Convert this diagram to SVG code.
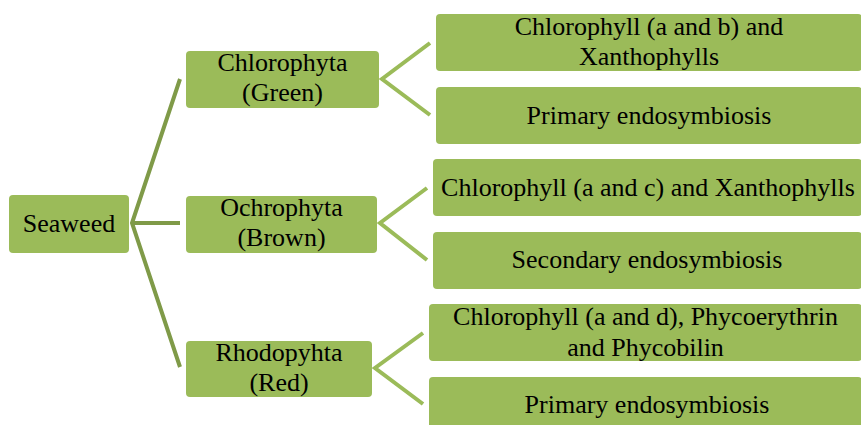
<svg xmlns="http://www.w3.org/2000/svg" width="861" height="425" viewBox="0 0 861 425">
<style>
.box{fill:#9bbb59;}
.t{font-family:'Liberation Serif','DejaVu Serif',serif;font-size:26px;fill:#000;text-anchor:middle;}
.c1{stroke:#7f9a48;stroke-width:4;fill:none;stroke-linejoin:miter;}
.c2{stroke:#9bbb59;stroke-width:4;fill:none;stroke-linejoin:miter;}
</style>
<rect width="861" height="425" fill="#ffffff"/>
<g id="connectors">
<polyline class="c1" points="180,79 132,223 180,367"/>
<line class="c1" x1="132" y1="223" x2="180" y2="223"/>
<polyline class="c2" points="430,43 382,79 430,115"/>
<polyline class="c2" points="427,188 380,223 427,260"/>
<polyline class="c2" points="423,333 375,368 423,404"/>
</g>
<g id="seaweed">
<rect class="box" x="9" y="195" width="120" height="58" rx="4"/>
<text class="t" x="69" y="232">Seaweed</text>
</g>
<g id="chlorophyta">
<rect class="box" x="186" y="51" width="193" height="57" rx="4"/>
<text class="t" x="282.5" y="71">Chlorophyta</text>
<text class="t" x="282.5" y="101">(Green)</text>
</g>
<g id="ochrophyta">
<rect class="box" x="186" y="196" width="191" height="57" rx="4"/>
<text class="t" x="281.5" y="216">Ochrophyta</text>
<text class="t" x="281.5" y="246">(Brown)</text>
</g>
<g id="rhodopyhta">
<rect class="box" x="186" y="341" width="186" height="56" rx="4"/>
<text class="t" x="279" y="361">Rhodopyhta</text>
<text class="t" x="279" y="391">(Red)</text>
</g>
<g id="green-pigments">
<rect class="box" x="436" y="14" width="426" height="57" rx="4"/>
<text class="t" x="649" y="35">Chlorophyll (a and b) and</text>
<text class="t" x="649" y="65">Xanthophylls</text>
</g>
<g id="green-origin">
<rect class="box" x="436" y="87" width="426" height="57" rx="4"/>
<text class="t" x="649" y="124">Primary endosymbiosis</text>
</g>
<g id="brown-pigments">
<rect class="box" x="433" y="159" width="429" height="57" rx="4"/>
<text class="t" x="648" y="196">Chlorophyll (a and c) and Xanthophylls</text>
</g>
<g id="brown-origin">
<rect class="box" x="433" y="232" width="429" height="57" rx="4"/>
<text class="t" x="647" y="268">Secondary endosymbiosis</text>
</g>
<g id="red-pigments">
<rect class="box" x="429" y="304" width="433" height="57" rx="4"/>
<text class="t" x="645.5" y="325">Chlorophyll (a and d), Phycoerythrin</text>
<text class="t" x="645.5" y="356">and Phycobilin</text>
</g>
<g id="red-origin">
<rect class="box" x="429" y="377" width="433" height="57" rx="4"/>
<text class="t" x="647" y="413">Primary endosymbiosis</text>
</g>
</svg>
